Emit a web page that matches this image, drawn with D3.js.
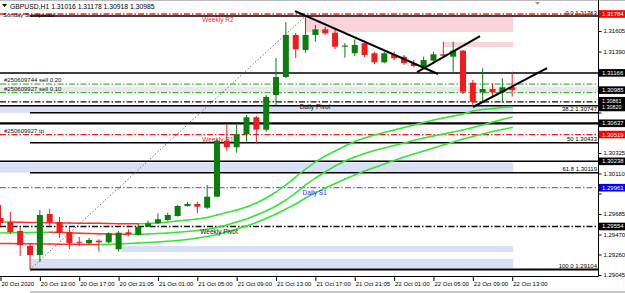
<!DOCTYPE html>
<html><head><meta charset="utf-8">
<script src="https://cdn.jsdelivr.net/npm/d3@7"></script>
<style>
body{margin:0;background:#fff;}
svg text{font-family:"Liberation Sans",Arial,sans-serif;}
</style></head>
<body><svg id="c" width="625" height="293"></svg>
<script>
// ---------- DATA ----------
const symbol = "GBPUSD,H1";
const lastOHLC = ["1.31016","1.31178","1.30918","1.30985"];
const open  = [1.29643,1.29601,1.29507,1.29349,1.29255,1.29685,1.29601,1.29496,1.29394,1.29378,1.29405,1.29388,1.29315,1.29493,1.29465,1.29552,1.29588,1.29622,1.29664,1.29769,1.29790,1.29751,1.29867,1.30454,1.30385,1.30522,1.30700,1.30570,1.30934,1.31123,1.31564,1.31406,1.31564,1.31623,1.31588,1.31441,1.31372,1.31477,1.31372,1.31277,1.31354,1.31336,1.31267,1.31231,1.31294,1.31361,1.31336,1.31399,1.31063,1.30962,1.30997,1.30962,1.31016];
const high  = [1.29780,1.29706,1.29549,1.29381,1.29727,1.29738,1.29654,1.29549,1.29444,1.29433,1.29420,1.29493,1.29507,1.29525,1.29588,1.29615,1.29693,1.29699,1.29780,1.29814,1.29814,1.29990,1.30472,1.30624,1.30619,1.30724,1.30714,1.30934,1.31322,1.31700,1.31585,1.31763,1.31669,1.31651,1.31623,1.31480,1.31518,1.31504,1.31388,1.31388,1.31388,1.31354,1.31301,1.31336,1.31388,1.31493,1.31493,1.31406,1.31091,1.31214,1.31057,1.31109,1.31178];
const low   = [1.29559,1.29475,1.29244,1.29104,1.29181,1.29559,1.29433,1.29318,1.29349,1.29370,1.29290,1.29378,1.29290,1.29454,1.29457,1.29546,1.29580,1.29612,1.29657,1.29762,1.29693,1.29738,1.29860,1.30346,1.30328,1.30444,1.30427,1.30549,1.30829,1.31112,1.31322,1.31378,1.31493,1.31564,1.31414,1.31325,1.31343,1.31333,1.31259,1.31267,1.31301,1.31249,1.31225,1.31214,1.31283,1.31336,1.31178,1.30944,1.30811,1.30864,1.30916,1.30850,1.30918];
const close = [1.29591,1.29496,1.29360,1.29255,1.29675,1.29601,1.29486,1.29381,1.29384,1.29412,1.29388,1.29483,1.29489,1.29472,1.29552,1.29588,1.29630,1.29675,1.29769,1.29790,1.29762,1.29867,1.30454,1.30385,1.30522,1.30700,1.30570,1.30913,1.31123,1.31564,1.31414,1.31564,1.31623,1.31581,1.31441,1.31453,1.31459,1.31354,1.31277,1.31372,1.31319,1.31267,1.31238,1.31301,1.31361,1.31346,1.31399,1.30969,1.30864,1.30997,1.30962,1.31015,1.30985];

const ma1 = [1.29601,1.29601,1.29599,1.29597,1.29595,1.29593,1.29591,1.29590,1.29589,1.29588,1.29587,1.29585,1.29584,1.29583,1.29582,1.29585,1.29591,1.29601,1.29612,1.29622,1.29633,1.29648,1.29675,1.29701,1.29727,1.29759,1.29801,1.29853,1.29916,1.29990,1.30073,1.30157,1.30231,1.30294,1.30346,1.30399,1.30446,1.30483,1.30514,1.30540,1.30567,1.30593,1.30619,1.30645,1.30672,1.30693,1.30714,1.30735,1.30766,1.30782,1.30792,1.30803,1.30808];
const ma2 = [1.29486,1.29488,1.29490,1.29491,1.29493,1.29494,1.29493,1.29488,1.29484,1.29481,1.29477,1.29475,1.29473,1.29472,1.29473,1.29475,1.29481,1.29486,1.29493,1.29502,1.29512,1.29525,1.29544,1.29570,1.29601,1.29633,1.29675,1.29717,1.29769,1.29832,1.29906,1.29990,1.30063,1.30126,1.30189,1.30241,1.30283,1.30320,1.30352,1.30378,1.30404,1.30430,1.30456,1.30483,1.30504,1.30525,1.30546,1.30567,1.30593,1.30619,1.30651,1.30677,1.30703];
const ma3 = [1.29376,1.29375,1.29374,1.29372,1.29371,1.29370,1.29369,1.29368,1.29367,1.29366,1.29365,1.29367,1.29370,1.29376,1.29381,1.29386,1.29391,1.29399,1.29407,1.29418,1.29433,1.29449,1.29470,1.29496,1.29528,1.29559,1.29596,1.29638,1.29685,1.29738,1.29790,1.29853,1.29906,1.29958,1.30005,1.30052,1.30094,1.30136,1.30173,1.30210,1.30247,1.30283,1.30315,1.30346,1.30378,1.30409,1.30441,1.30472,1.30498,1.30525,1.30551,1.30572,1.30593];

const priceTicks = [1.31820,1.31605,1.31390,1.31180,1.30965,1.30750,1.30540,1.30325,1.30110,1.29900,1.29685,1.29470,1.29260,1.29045];
const timeTickIdx = [0,4,8,12,16,20,24,28,32,36,40,44,48,52];
const timeTickLabels = ["20 Oct 2020","20 Oct 13:00","20 Oct 17:00","20 Oct 21:05","21 Oct 01:00","21 Oct 05:00","21 Oct 09:00","21 Oct 13:00","21 Oct 17:00","21 Oct 21:05","22 Oct 01:00","22 Oct 05:00","22 Oct 09:00","22 Oct 13:00"];

const pivotNames  = ["Weekly R2","Weekly R1","Daily Pivot","Daily S1","Weekly Pivot"];
const pivotValues = [1.31784,1.30519,1.30861,1.29961,1.29554];
const pivotLabelAt = [20.5,20.5,30.4,30.7,20.3];

const srValues = [1.31166,1.30820,1.30637,1.30238];

const fibNames  = ["0.0","38.2","50","61.8","100.0"];
const fibValues = [1.31763,1.30747,1.30433,1.30119,1.29104];
const fibAnchorIdx = [3,31];

const orderTexts  = ["#250609744 sell 0.20","#250609927 sell 0.10"];
const orderPrices = [1.31049,1.30958];
const tpText = "#250609927 tp";
const tpPrice = 1.30519;
const spreadBand = [1.30965,1.31018];

const demandZones = [[0,52.1,1.30820,1.30747],[0,52.1,1.30225,1.30119],[12.3,52.1,1.29349,1.29286],[3,52.1,1.29213,1.29118]];
const supplyZones = [[31,52.1,1.31752,1.31595],[45,52.1,1.31490,1.31438]];

const trendLines = [[29.93,1.31815,44.46,1.31154],[42.33,1.31175,48.73,1.31553],[48.02,1.30808,55.54,1.31217]];

const markedPrices = ["1.31784","1.31166","1.30985","1.30820","1.30861","1.30637","1.30519","1.30238","1.29961","1.29554"];
const markedKinds  = ["r","k","k","k","k","k","r","k","b","k"];

// ---------- SCALES ----------
const svg = d3.select("#c");
const W = 598.5, B = 276;
const x = d3.scaleLinear().domain([0,52]).range([0.5,512.2]);
const y = d3.scaleLinear().domain([1.29045,1.31784]).range([275,14]);

svg.append("defs").append("clipPath").attr("id","pc")
  .append("rect").attr("x",0).attr("y",0).attr("width",W).attr("height",B);
const g = svg.append("g").attr("clip-path","url(#pc)");

const DD = "6,2,1.5,2";
// zones
g.selectAll(".dz").data(demandZones).enter().append("rect")
  .attr("x",d=>d[0]===0?0:x(d[0])).attr("y",d=>y(d[2]))
  .attr("width",d=>x(d[1])-(d[0]===0?0:x(d[0]))).attr("height",d=>y(d[3])-y(d[2]))
  .attr("fill","#d7e0f6");
g.selectAll(".sz").data(supplyZones).enter().append("rect")
  .attr("x",d=>x(d[0])).attr("y",d=>y(d[2]))
  .attr("width",d=>x(d[1])-x(d[0])).attr("height",d=>y(d[3])-y(d[2]))
  .attr("fill","#fbd3da");
g.append("rect").attr("x",0).attr("width",W).attr("y",y(spreadBand[1])).attr("height",y(spreadBand[0])-y(spreadBand[1])).attr("fill","#e9e9e9");

// S/R solid lines
g.selectAll(".sr").data(srValues).enter().append("line")
  .attr("x1",0).attr("x2",W).attr("y1",d=>y(d)).attr("y2",d=>y(d))
  .attr("stroke","#000").attr("stroke-width",(d,i)=>i===2?2.2:1.5);

// fib
g.selectAll(".fib").data(fibValues).enter().append("line")
  .attr("x1",x(fibAnchorIdx[0])).attr("x2",W).attr("y1",d=>y(d)).attr("y2",d=>y(d))
  .attr("stroke","#000").attr("stroke-width",(d,i)=>i===4?2:1.5);
g.append("line").attr("x1",x(fibAnchorIdx[0])).attr("y1",y(fibValues[4])).attr("x2",x(fibAnchorIdx[1])).attr("y2",y(fibValues[0]))
  .attr("stroke","#555").attr("stroke-width",1).attr("stroke-dasharray","1.2,2.2");
g.selectAll(".fibt").data(fibValues).enter().append("text")
  .attr("x",597).attr("y",d=>y(d)-1.5).attr("text-anchor","end").attr("font-size",6).attr("fill","#000")
  .text((d,i)=>fibNames[i]+" "+d.toFixed(5));

// order lines
g.selectAll(".ord").data(orderPrices).enter().append("line")
  .attr("x1",0).attr("x2",W).attr("y1",d=>y(d)).attr("y2",d=>y(d))
  .attr("stroke","#1f9a1f").attr("stroke-width",1).attr("stroke-dasharray",DD);
g.selectAll(".ordt").data(orderPrices).enter().append("text")
  .attr("x",4).attr("y",d=>y(d)-2).attr("font-size",6).attr("fill","#111")
  .text((d,i)=>orderTexts[i]);
g.append("text").attr("x",4).attr("y",y(tpPrice)-2).attr("font-size",6).attr("fill","#111").text(tpText);

// pivot lines
const pivColor = n => n.startsWith("Weekly R") ? "#ff1a1a" : (n==="Daily S1" ? "#6a6aff" : "#111");
g.selectAll(".piv").data(pivotValues).enter().append("line")
  .attr("x1",0).attr("x2",W).attr("y1",d=>y(d)).attr("y2",d=>y(d))
  .attr("stroke",(d,i)=>pivColor(pivotNames[i])).attr("stroke-width",1.3).attr("stroke-dasharray",DD);

// moving averages (red when falling, green when rising)
[ma1,ma2,ma3].forEach(ma=>{
  for(let i=1;i<ma.length;i++){
    g.append("line").attr("x1",x(i-1)).attr("y1",y(ma[i-1])).attr("x2",x(i)).attr("y2",y(ma[i]))
      .attr("stroke", ma[i]>=ma[i-1] ? "#33e633" : "#ff3030").attr("stroke-width",1.5).attr("stroke-linecap","round");
  }
});

// pivot labels
g.selectAll(".pivt").data(pivotValues).enter().append("text")
  .attr("x",(d,i)=>x(pivotLabelAt[i])).attr("y",d=>y(d)+7.5).attr("font-size",6.5)
  .attr("fill",(d,i)=>pivotNames[i].startsWith("Weekly R")?"#ff1a1a":(pivotNames[i]==="Daily S1"?"#2a2aff":"#111"))
  .text((d,i)=>pivotNames[i]);

// candles
const idx = d3.range(open.length);
const bull = i => close[i] >= open[i];
g.selectAll(".wick").data(idx).enter().append("line")
  .attr("x1",i=>x(i)).attr("x2",i=>x(i)).attr("y1",i=>y(high[i])).attr("y2",i=>y(low[i]))
  .attr("stroke",i=>bull(i)?"#0b7d0b":"#f21a1a").attr("stroke-width",1);
g.selectAll(".body").data(idx).enter().append("rect")
  .attr("x",i=>x(i)-3).attr("width",6)
  .attr("y",i=>y(Math.max(open[i],close[i])))
  .attr("height",i=>Math.max(1,Math.abs(y(open[i])-y(close[i]))))
  .attr("fill",i=>bull(i)?"#0b7d0b":"#f21a1a");

// trend lines
g.selectAll(".tl").data(trendLines).enter().append("line")
  .attr("x1",d=>x(d[0])).attr("y1",d=>y(d[1])).attr("x2",d=>x(d[2])).attr("y2",d=>y(d[3]))
  .attr("stroke","#000").attr("stroke-width",2);

// header
svg.append("path").attr("d","M2,4 L7,4 L4.5,7 Z").attr("fill","#000");
svg.append("text").attr("x",10).attr("y",8.5).attr("font-size",6.8).attr("fill","#000")
  .text(symbol+"  "+lastOHLC.join(" "));
svg.append("text").attr("x",3).attr("y",17).attr("font-size",6).attr("fill","#000").text("Sunday Sunspread");
svg.append("path").attr("d","M535,2 L540,2 L537.5,5 Z").attr("fill","#999");

// frame
svg.append("line").attr("x1",0).attr("x2",625).attr("y1",0.5).attr("y2",0.5).attr("stroke","#bbb");
svg.append("line").attr("x1",W).attr("x2",W).attr("y1",0).attr("y2",B).attr("stroke","#000");
svg.append("line").attr("x1",0).attr("x2",W).attr("y1",B+0.5).attr("y2",B+0.5).attr("stroke","#000");

// right axis (labels hidden behind a marked price are omitted)
const markedY = markedPrices.map(p=>y(+p));
const ya = d3.axisRight(y).tickValues(priceTicks).tickSize(3).tickPadding(2)
  .tickFormat(d => markedY.some(m=>Math.abs(m-y(d))<7) ? "" : d3.format(".5f")(d));
const yag = svg.append("g").attr("transform",`translate(${W},0)`).call(ya);
yag.select(".domain").remove();
yag.selectAll("text").attr("font-size",6).attr("fill","#000").style("font-family","Liberation Sans, Arial");
yag.selectAll("line").attr("stroke","#000");

// marked price labels (two close ones nudged apart so their texts stay legible)
const kc = {r:"#ff0000",k:"#000",b:"#0000ff"};
const nudge = {"1.30820":1.6,"1.30861":-1.2};
markedPrices.forEach((p,i)=>{
  const yy = y(+p) + (nudge[p]||0);
  const fs = nudge[p] ? 5.4 : 6;
  svg.append("rect").attr("x",W+0.5).attr("y",yy-3.8).attr("width",26).attr("height",7.6).attr("fill",kc[markedKinds[i]]);
  svg.append("text").attr("x",W+3.5).attr("y",yy+2).attr("font-size",fs).attr("fill","#fff").text(p);
});

// bottom axis
const xa = d3.axisBottom(x).tickValues(timeTickIdx).tickSize(4).tickFormat((d,i)=>timeTickLabels[i]);
const xag = svg.append("g").attr("transform",`translate(0,${B+1})`).call(xa);
xag.select(".domain").remove();
xag.selectAll("text").attr("font-size",6).attr("fill","#000").attr("text-anchor","start").attr("dx",0.5).attr("y",5).attr("dy","0.71em")
  .style("font-family","Liberation Sans, Arial");
xag.selectAll("line").attr("stroke","#000");

// scrollbar strip
svg.append("rect").attr("x",30).attr("y",291).attr("width",595).attr("height",2).attr("fill","#c8c8c8");
</script>
</body></html>
